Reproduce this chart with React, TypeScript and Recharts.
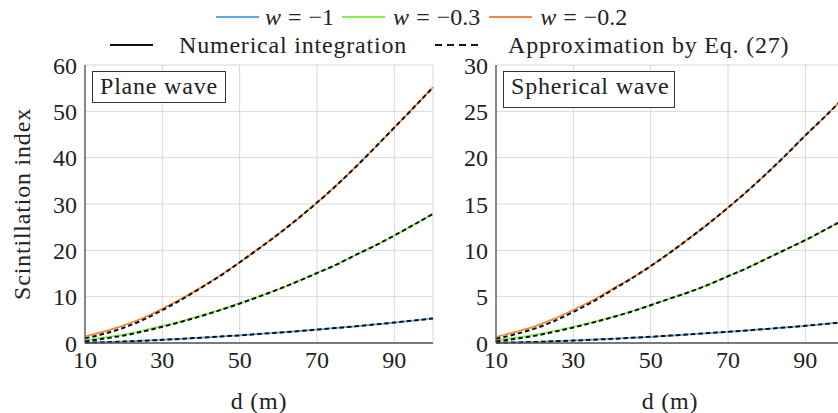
import { CartesianGrid, Line, LineChart, XAxis, YAxis } from "recharts";

// propagation distance d (m)
const distances = [10, 15, 20, 25, 30, 35, 40, 45, 50, 55, 60, 65, 70, 75, 80, 85, 90, 95, 100];
const xTicks = [10, 30, 50, 70, 90];
const planeTicks = [0, 10, 20, 30, 40, 50, 60];
const sphericalTicks = [0, 5, 10, 15, 20, 25, 30];

// plane wave, numerical integration
const planeNumW1 = [0.1, 0.2, 0.35, 0.5, 0.7, 0.9, 1.15, 1.4, 1.65, 1.95, 2.25, 2.55, 2.9, 3.25, 3.6, 4.0, 4.4, 4.85, 5.3];
const planeNumW03 = [0.6, 1.2, 1.8, 2.7, 3.7, 4.7, 5.9, 7.2, 8.6, 10.1, 11.6, 13.3, 15.1, 16.9, 19.0, 21.0, 23.2, 25.5, 27.9];
const planeNumW02 = [1.4, 2.5, 3.8, 5.4, 7.4, 9.6, 12.0, 14.6, 17.4, 20.4, 23.5, 26.8, 30.3, 34.0, 38.0, 42.2, 46.5, 50.8, 55.2];
// plane wave, approximation by Eq. (27)
const planeApxW1 = [0.05, 0.15, 0.3, 0.47, 0.68, 0.9, 1.14, 1.4, 1.65, 1.95, 2.25, 2.55, 2.9, 3.25, 3.6, 4.0, 4.4, 4.85, 5.3];
const planeApxW03 = [0.35, 0.95, 1.6, 2.5, 3.5, 4.6, 5.8, 7.1, 8.5, 10.0, 11.6, 13.3, 15.1, 16.9, 19.0, 21.0, 23.2, 25.5, 27.9];
const planeApxW02 = [1.0, 2.0, 3.3, 5.0, 7.1, 9.4, 11.9, 14.5, 17.4, 20.4, 23.5, 26.8, 30.3, 34.0, 38.0, 42.2, 46.5, 50.8, 55.2];

// spherical wave, numerical integration
const sphNumW1 = [0.04, 0.08, 0.13, 0.2, 0.28, 0.36, 0.46, 0.56, 0.67, 0.8, 0.93, 1.07, 1.2, 1.36, 1.52, 1.68, 1.86, 2.05, 2.25];
const sphNumW03 = [0.3, 0.58, 0.88, 1.3, 1.75, 2.25, 2.8, 3.4, 4.1, 4.8, 5.5, 6.3, 7.2, 8.1, 9.1, 10.1, 11.1, 12.2, 13.3];
const sphNumW02 = [0.65, 1.2, 1.8, 2.6, 3.55, 4.6, 5.8, 7.0, 8.3, 9.75, 11.3, 12.9, 14.6, 16.4, 18.3, 20.3, 22.4, 24.4, 26.5];
// spherical wave, approximation by Eq. (27)
const sphApxW1 = [0.02, 0.06, 0.11, 0.18, 0.26, 0.35, 0.45, 0.56, 0.67, 0.8, 0.93, 1.07, 1.2, 1.36, 1.52, 1.68, 1.86, 2.05, 2.25];
const sphApxW03 = [0.17, 0.45, 0.77, 1.2, 1.67, 2.2, 2.77, 3.38, 4.08, 4.8, 5.5, 6.3, 7.2, 8.1, 9.1, 10.1, 11.1, 12.2, 13.3];
const sphApxW02 = [0.45, 0.95, 1.55, 2.35, 3.35, 4.45, 5.7, 6.95, 8.3, 9.75, 11.3, 12.9, 14.6, 16.4, 18.3, 20.3, 22.4, 24.4, 26.5];

const BLUE = "#5ea6ee";
const GREEN = "#84f04a";
const ORANGE = "#f0873a";
const FONT = "Liberation Serif, DejaVu Serif, Noto Serif, Times New Roman, serif";

function buildRows(n1: number[], n03: number[], n02: number[], a1: number[], a03: number[], a02: number[]) {
  return distances.map((d, i) => ({
    d,
    n1: n1[i],
    n03: n03[i],
    n02: n02[i],
    a1: a1[i],
    a03: a03[i],
    a02: a02[i],
  }));
}

const planeRows = buildRows(planeNumW1, planeNumW03, planeNumW02, planeApxW1, planeApxW03, planeApxW02);
const sphRows = buildRows(sphNumW1, sphNumW03, sphNumW02, sphApxW1, sphApxW03, sphApxW02);

interface PanelProps {
  rows: ReturnType<typeof buildRows>;
  yMax: number;
  yTicks: number[];
  title: string;
  titleHeight: number;
  titleWidth: number;
  left: number;
  yLabel?: boolean;
}

function Panel({ rows, yMax, yTicks, title, titleHeight, titleWidth, left, yLabel }: PanelProps) {
  const tickStyle = { fill: "#222", fontSize: 24, fontFamily: FONT };
  return (
    <div style={{ position: "absolute", left, top: 0, width: 460, height: 413 }}>
      <LineChart width={460} height={413} data={rows} margin={{ top: 65, right: 27, bottom: 0, left: 0 }} style={{ fontFamily: FONT }}>
        <CartesianGrid stroke="#d8d8d8" strokeWidth={1} />
        <XAxis
          dataKey="d"
          type="number"
          domain={[10, 100]}
          ticks={xTicks}
          tickLine={false}
          height={70}
          stroke="#555"
          strokeWidth={1.3}
          tick={tickStyle}
          label={{
            content: ({ viewBox }: any) => (
              <text
                x={viewBox.x + viewBox.width / 2}
                y={viewBox.y + 58}
                textAnchor="middle"
                dominantBaseline="central"
                style={{ fontFamily: FONT, fontSize: 24, letterSpacing: 0.8 }}
                fill="#222"
              >
                d (m)
              </text>
            ),
          }}
        />
        <XAxis xAxisId="top" orientation="top" dataKey="d" type="number" domain={[10, 100]} height={0} tick={false} tickLine={false} stroke="#555" strokeWidth={1.3} />
        <YAxis
          type="number"
          domain={[0, yMax]}
          ticks={yTicks}
          width={85}
          tickLine={false}
          stroke="#555"
          strokeWidth={1.3}
          tick={tickStyle}
          label={
            yLabel
              ? {
                  content: ({ viewBox }: any) => {
                    const cx = viewBox.x + 22;
                    const cy = viewBox.y + viewBox.height / 2;
                    return (
                      <text
                        x={cx}
                        y={cy}
                        transform={`rotate(-90, ${cx}, ${cy})`}
                        textAnchor="middle"
                        dominantBaseline="central"
                        style={{ fontFamily: FONT, fontSize: 24, letterSpacing: 0.8 }}
                        fill="#222"
                      >
                        Scintillation index
                      </text>
                    );
                  },
                }
              : undefined
          }
        />
        <YAxis yAxisId="right" orientation="right" type="number" domain={[0, yMax]} width={0} tick={false} tickLine={false} stroke="#555" strokeWidth={1.3} />
        <Line dataKey="n1" stroke={BLUE} strokeWidth={1.7} dot={false} type="monotone" isAnimationActive={false} />
        <Line dataKey="n03" stroke={GREEN} strokeWidth={1.7} dot={false} type="monotone" isAnimationActive={false} />
        <Line dataKey="n02" stroke={ORANGE} strokeWidth={1.7} dot={false} type="monotone" isAnimationActive={false} />
        <Line dataKey="a1" stroke="#111" strokeWidth={2} strokeDasharray="4.5 3" dot={false} type="monotone" isAnimationActive={false} />
        <Line dataKey="a03" stroke="#111" strokeWidth={2} strokeDasharray="4.5 3" dot={false} type="monotone" isAnimationActive={false} />
        <Line dataKey="a02" stroke="#111" strokeWidth={2} strokeDasharray="4.5 3" dot={false} type="monotone" isAnimationActive={false} />
      </LineChart>
      <div
        style={{
          position: "absolute",
          left: 92,
          top: 71,
          width: titleWidth,
          height: titleHeight,
          border: "1.3px solid #333",
          boxSizing: "border-box",
          background: "#fff",
          fontFamily: FONT,
          fontSize: 24,
          letterSpacing: 0.8,
          lineHeight: "29px",
          paddingLeft: 7,
          color: "#222",
          whiteSpace: "nowrap",
        }}
      >
        {title}
      </div>
    </div>
  );
}

function Swatch({ color, dashed }: { color: string; dashed?: boolean }) {
  return (
    <svg width={43} height={6} style={{ display: "block" }}>
      <line x1={0} y1={3} x2={43} y2={3} stroke={color} strokeWidth={dashed ? 1.8 : 2} strokeDasharray={dashed ? "7 5" : undefined} />
    </svg>
  );
}

function MathLabel({ value }: { value: string }) {
  return (
    <span>
      <i>w</i>
      <span style={{ margin: "0 7px" }}>=</span>
      {value}
    </span>
  );
}

export default function App() {
  const legendText = { fontFamily: FONT, fontSize: 24, color: "#222", whiteSpace: "nowrap" as const };
  return (
    <div style={{ position: "absolute", left: 0, top: 0, width: 838, height: 413, overflow: "hidden", background: "#fff", fontFamily: FONT }}>
      <div style={{ position: "absolute", left: 216, top: 3, height: 28, display: "flex", alignItems: "center", ...legendText }}>
        <Swatch color={BLUE} />
        <span style={{ marginLeft: 6, marginRight: 8 }}>
          <MathLabel value="−1" />
        </span>
        <Swatch color={GREEN} />
        <span style={{ marginLeft: 8, marginRight: 9 }}>
          <MathLabel value="−0.3" />
        </span>
        <Swatch color={ORANGE} />
        <span style={{ marginLeft: 8 }}>
          <MathLabel value="−0.2" />
        </span>
      </div>
      <div style={{ position: "absolute", left: 110, top: 31, height: 28, display: "flex", alignItems: "center", ...legendText, letterSpacing: 0.8 }}>
        <Swatch color="#111" />
        <span style={{ marginLeft: 26, marginRight: 28 }}>Numerical integration</span>
        <Swatch color="#111" dashed />
        <span style={{ marginLeft: 30 }}>Approximation by Eq. (27)</span>
      </div>
      <Panel rows={planeRows} yMax={60} yTicks={planeTicks} title="Plane wave" titleWidth={134} titleHeight={32} left={0} yLabel />
      <Panel rows={sphRows} yMax={30} yTicks={sphericalTicks} title="Spherical wave" titleWidth={172} titleHeight={37} left={411} />
    </div>
  );
}
